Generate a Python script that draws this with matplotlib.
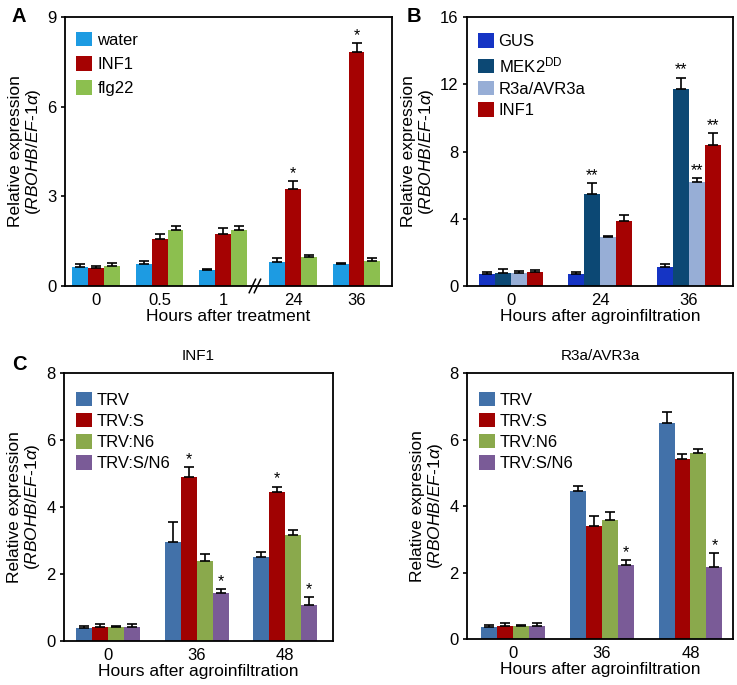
import numpy as np
import matplotlib
matplotlib.use('Agg')
import matplotlib.pyplot as plt
import matplotlib.transforms as mtransforms
from matplotlib.patches import Patch

plt.rcParams['font.family'] = ['Liberation Sans', 'DejaVu Sans']
plt.rcParams['mathtext.fontset'] = 'custom'
plt.rcParams['mathtext.rm'] = 'Liberation Sans'
plt.rcParams['mathtext.it'] = 'Liberation Sans:italic'

# panel A - hours after treatment
a_hours = ['0', '0.5', '1', '24', '36']
a_names = ['water', 'INF1', 'flg22']
a_colors = ['#1d9be2', '#a50202', '#8cbf4f']
a_means = [[0.65, 0.73, 0.52, 0.81, 0.73],
           [0.59, 1.57, 1.75, 3.23, 7.83],
           [0.68, 1.86, 1.86, 0.97, 0.84]]
a_errs = [[0.08, 0.09, 0.05, 0.14, 0.04],
          [0.09, 0.18, 0.20, 0.27, 0.29],
          [0.10, 0.16, 0.16, 0.06, 0.11]]
a_stars = [['', '', '', '', ''],
           ['', '', '', '*', '*'],
           ['', '', '', '', '']]

# panel B - agroinfiltration
b_hours = ['0', '24', '36']
b_names = ['GUS', 'MEK2$^{\\mathrm{DD}}$', 'R3a/AVR3a', 'INF1']
b_colors = ['#1534c4', '#0c4874', '#97aed6', '#a50202']
b_means = [[0.71, 0.71, 1.15],
           [0.79, 5.50, 11.70],
           [0.79, 2.93, 6.20],
           [0.81, 3.86, 8.38]]
b_errs = [[0.14, 0.10, 0.14],
          [0.20, 0.64, 0.70],
          [0.10, 0.07, 0.24],
          [0.14, 0.36, 0.72]]
b_stars = [['', '', ''],
           ['', '**', '**'],
           ['', '', '**'],
           ['', '', '**']]

# panel C - silenced plants, INF1 and R3a/AVR3a
c_hours = ['0', '36', '48']
c_names = ['TRV', 'TRV:S', 'TRV:N6', 'TRV:S/N6']
c_colors = ['#4271a9', '#a00202', '#8aa94c', '#7a5b97']
c_inf1_means = [[0.38, 2.97, 2.52],
                [0.41, 4.89, 4.46],
                [0.41, 2.39, 3.17],
                [0.43, 1.42, 1.08]]
c_inf1_errs = [[0.07, 0.57, 0.15],
               [0.10, 0.30, 0.15],
               [0.05, 0.22, 0.15],
               [0.07, 0.12, 0.23]]
c_inf1_stars = [['', '', ''],
                ['', '*', '*'],
                ['', '', ''],
                ['', '*', '*']]
c_r3a_means = [[0.36, 4.44, 6.50],
               [0.40, 3.41, 5.41],
               [0.38, 3.59, 5.59],
               [0.40, 2.24, 2.16]]
c_r3a_errs = [[0.05, 0.15, 0.32],
              [0.08, 0.28, 0.15],
              [0.05, 0.22, 0.12],
              [0.08, 0.13, 0.43]]
c_r3a_stars = [['', '', ''],
               ['', '', ''],
               ['', '', ''],
               ['', '*', '*']]

YLABEL = 'Relative expression\n($\\mathit{RBOHB/EF}$-$\\mathit{1α}$)'


def draw_bars(ax, x, means, errs, stars, colors, width, star_pad):
    '''grouped bars with upper error bars and significance stars'''
    n = len(means)
    for i in range(n):
        xs = x + (i - (n - 1) / 2) * width
        ax.bar(xs, means[i], width, color=colors[i], zorder=2)
        ax.errorbar(xs, means[i], yerr=[np.zeros(len(xs)), errs[i]], fmt='none',
                    ecolor='black', elinewidth=1.2, capsize=3.5, capthick=1.2, zorder=3)
        for j in range(len(xs)):
            if stars[i][j]:
                ax.text(xs[j], means[i][j] + errs[i][j] + star_pad, stars[i][j],
                        ha='center', va='bottom', fontsize=11.5)


def style_axes(ax, hours, x, ymax, step, xlabel):
    ax.set_ylim(0, ymax)
    ax.set_yticks(np.arange(0, ymax + 0.01, step))
    ax.set_xticks(x)
    ax.set_xticklabels(hours)
    ax.tick_params(axis='x', length=0, labelsize=12, pad=5)
    ax.tick_params(axis='y', length=3, width=1.2, labelsize=12, pad=3)
    for s in ax.spines.values():
        s.set_linewidth(1.3)
    ax.set_xlabel(xlabel, fontsize=12.5, labelpad=1)
    ax.set_ylabel(YLABEL, fontsize=12.5, labelpad=3, linespacing=1.1)


def add_legend(ax, names, colors, anchor, spacing):
    handles = [Patch(facecolor=c) for c in colors]
    ax.legend(handles, names, loc='upper left', bbox_to_anchor=anchor, frameon=False,
              fontsize=12, handlelength=0.95, handleheight=0.95, handletextpad=0.3,
              labelspacing=spacing, borderpad=0, borderaxespad=0)


def main():
    fig = plt.figure(figsize=(7.37, 6.85), dpi=100)
    ax_a = fig.add_axes([0.0882, 0.5825, 0.4438, 0.3925])
    ax_b = fig.add_axes([0.6337, 0.5825, 0.3609, 0.3925])
    ax_c = fig.add_axes([0.0868, 0.0642, 0.3650, 0.3913])
    ax_d = fig.add_axes([0.6337, 0.0670, 0.3609, 0.3885])

    # A: small gap after 1 h for the axis break
    xa = np.arange(len(a_hours)) + (np.arange(len(a_hours)) >= 3) * 0.1
    draw_bars(ax_a, xa, a_means, a_errs, a_stars, a_colors, 0.25, 0.0)
    style_axes(ax_a, a_hours, xa, 9, 3, 'Hours after treatment')
    ax_a.set_xlim(-0.49, 4.66)
    add_legend(ax_a, a_names, a_colors, (0.035, 0.945), 0.5)
    trans = mtransforms.blended_transform_factory(ax_a.transData, ax_a.transAxes)
    for dx in (-0.04, 0.04):
        ax_a.plot([2.5 + dx - 0.05, 2.5 + dx + 0.05], [-0.025, 0.025], color='black',
                  lw=1.1, transform=trans, clip_on=False, zorder=5)

    xb = np.arange(len(b_hours))
    draw_bars(ax_b, xb, b_means, b_errs, b_stars, b_colors, 0.18, 0.0)
    style_axes(ax_b, b_hours, xb, 16, 4, 'Hours after agroinfiltration')
    ax_b.set_xlim(-0.5, 2.5)
    add_legend(ax_b, b_names, b_colors, (0.04, 0.94), 0.35)

    xc = np.arange(len(c_hours))
    draw_bars(ax_c, xc, c_inf1_means, c_inf1_errs, c_inf1_stars, c_colors, 0.18, 0.0)
    style_axes(ax_c, c_hours, xc, 8, 2, 'Hours after agroinfiltration')
    ax_c.set_xlim(-0.5, 2.54)
    ax_c.set_title('INF1', fontsize=11, pad=9)
    add_legend(ax_c, c_names, c_colors, (0.045, 0.93), 0.32)

    draw_bars(ax_d, xc, c_r3a_means, c_r3a_errs, c_r3a_stars, c_colors, 0.18, 0.0)
    style_axes(ax_d, c_hours, xc, 8, 2, 'Hours after agroinfiltration')
    ax_d.set_xlim(-0.52, 2.48)
    ax_d.set_title('R3a/AVR3a', fontsize=11, pad=9)
    add_legend(ax_d, c_names, c_colors, (0.045, 0.93), 0.32)

    fig.text(12 / 737, 1 - 17 / 685, 'A', fontsize=14.5, fontweight='bold', va='center')
    fig.text(407 / 737, 1 - 17 / 685, 'B', fontsize=14.5, fontweight='bold', va='center')
    fig.text(12 / 737, 1 - 364 / 685, 'C', fontsize=14.5, fontweight='bold', va='center')

    fig.savefig('out.png', dpi=100)


if __name__ == '__main__':
    main()
